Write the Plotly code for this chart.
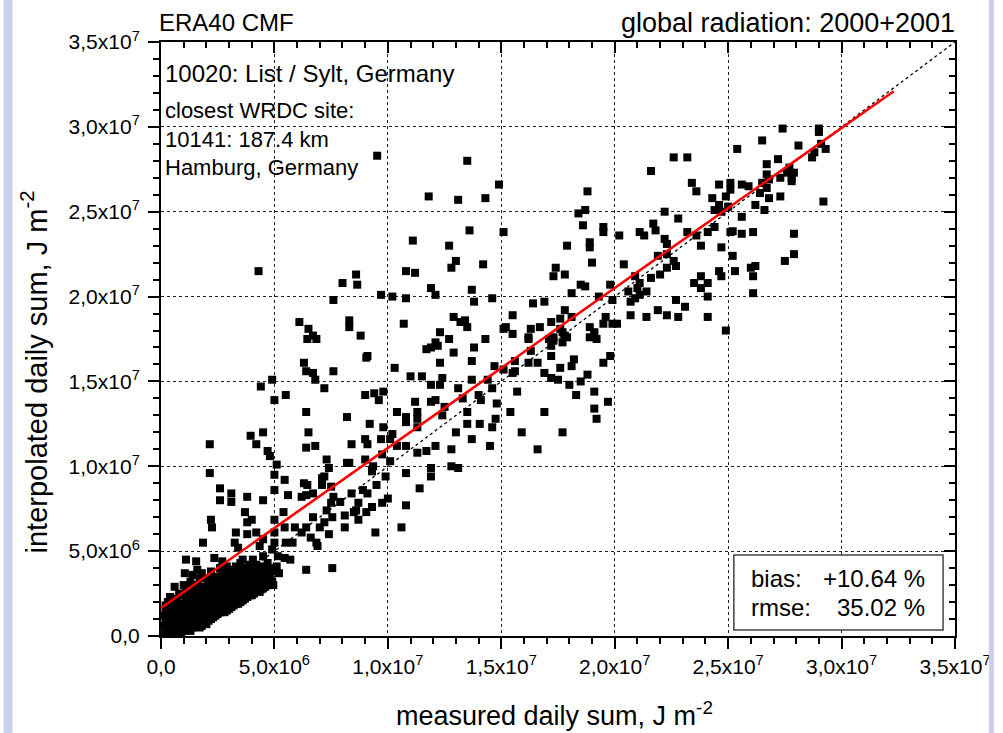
import plotly.graph_objects as go

# ---------------- data (values in 10^6 J m^-2) ----------------
points_upper_left = [
    (9.53, 28.3), (11.8, 25.9), (11.1, 23.3), (4.3, 21.5), (8.6, 21.3), (8.0, 20.8), (8.65, 20.7),
    (10.8, 21.5), (11.2, 21.4), (9.7, 20.1), (10.2, 20.0), (10.8, 19.9), (7.6, 19.8), (6.1, 18.5),
    (8.3, 18.6), (8.3, 18.2), (6.5, 18.1), (6.7, 17.7), (6.85, 17.5), (8.8, 17.7), (10.7, 18.4),
]
points_upper_mid = [
    (13.5, 28.0), (14.9, 26.6), (13.1, 25.7), (14.3, 25.8), (18.8, 26.2), (18.7, 25.1), (18.4, 24.9),
    (18.6, 24.2), (19.5, 24.1), (19.5, 23.8), (13.6, 23.9), (15.1, 23.8), (12.7, 23.0), (13.0, 22.1),
    (12.8, 21.7), (14.2, 21.9), (17.9, 23.0), (18.9, 23.2), (18.9, 22.9), (19.0, 22.0), (17.4, 21.7),
    (17.3, 21.2), (17.8, 21.3), (18.5, 20.7), (18.7, 20.6), (19.8, 20.7), (18.1, 20.2), (11.9, 20.5),
    (12.1, 20.1), (13.7, 20.4), (13.8, 19.7), (14.6, 19.9), (16.4, 19.6), (16.9, 19.7), (19.3, 20.0),
    (19.9, 19.8), (17.8, 19.2), (12.9, 18.8), (13.2, 18.5), (13.4, 18.6), (13.5, 18.2), (12.3, 17.9),
    (15.5, 18.9), (15.2, 18.2), (15.1, 18.1), (15.5, 17.8), (16.3, 18.1), (16.7, 18.2), (17.2, 18.5),
    (17.6, 18.7), (18.1, 18.8), (19.6, 18.8), (19.5, 18.4), (19.9, 18.4), (20.1, 18.4), (18.9, 18.2),
    (19.1, 17.9), (17.7, 17.9), (12.7, 17.5), (14.3, 17.5), (16.2, 17.6), (17.3, 17.6), (17.9, 17.6),
    (18.9, 17.6),
    (22.6, 28.2), (23.2, 28.2), (21.6, 27.4), (23.4, 26.7), (23.6, 26.2), (22.2, 25.0), (22.8, 24.6),
    (21.7, 24.3), (21.8, 23.9), (21.1, 23.8), (21.3, 23.6), (20.2, 23.6), (22.2, 23.4), (22.3, 23.1),
    (23.2, 23.8), (23.6, 23.6), (21.9, 22.4), (22.3, 22.5), (22.6, 22.1), (20.4, 21.9), (22.3, 21.7),
    (22.7, 21.8), (22.0, 21.3), (20.9, 21.2), (21.6, 21.1), (21.1, 20.8), (21.0, 20.5), (20.6, 20.3),
    (21.1, 20.1), (21.4, 20.3), (23.5, 20.8), (20.7, 19.7), (20.9, 19.9), (22.7, 19.8), (23.1, 19.4),
    (20.7, 18.9), (21.9, 19.2), (22.3, 18.9), (21.4, 18.8), (22.8, 18.8),
]
points_upper_right = [
    (27.4, 29.9), (29.0, 29.9), (29.0, 29.7), (26.5, 29.2), (25.4, 28.7), (28.1, 28.9), (29.1, 29.0),
    (29.3, 28.7), (28.8, 28.5), (28.7, 28.2), (27.2, 28.1), (26.7, 27.8), (27.7, 27.6), (26.7, 27.2),
    (27.6, 27.3), (27.9, 27.3), (27.8, 27.0), (27.8, 26.8), (27.3, 27.0), (26.8, 26.9), (26.5, 26.7),
    (26.7, 26.4), (26.4, 26.1), (26.8, 25.8), (27.3, 25.9), (25.9, 26.5), (25.6, 26.6), (25.1, 26.7),
    (25.1, 26.3), (24.6, 26.6), (24.9, 25.9), (24.3, 25.8), (29.2, 25.6), (26.2, 25.4), (26.6, 25.1),
    (24.6, 25.4), (25.0, 25.3), (24.4, 25.1), (24.7, 25.0), (25.6, 24.7), (24.4, 24.1), (24.1, 23.8),
    (25.1, 23.8), (25.2, 23.85), (25.6, 23.7), (26.1, 23.8), (23.8, 23.0), (24.7, 22.9), (27.9, 23.7),
    (27.9, 22.5), (27.5, 22.1), (25.2, 22.4), (26.0, 21.7), (26.2, 21.8), (25.3, 21.5), (24.6, 21.5),
    (24.7, 21.2), (26.1, 21.2), (23.8, 21.2), (24.1, 20.8), (23.8, 20.5), (24.1, 20.0), (26.1, 20.2),
    (24.1, 18.8), (24.9, 18.0),
]
points_middle_left = [
    (6.45, 17.5), (9.05, 16.4), (9.1, 16.5), (6.3, 16.1), (6.4, 15.6), (6.7, 15.5), (7.6, 15.6),
    (6.8, 15.1), (7.2, 14.6), (4.9, 15.1), (4.4, 14.7), (5.0, 13.9), (5.5, 14.2), (10.3, 15.8),
    (11.0, 15.3), (11.5, 15.3), (11.7, 16.9), (9.0, 14.2), (9.4, 14.3), (9.8, 14.4), (9.6, 13.9),
    (11.2, 13.8), (6.4, 13.2), (8.2, 12.9), (10.4, 13.2), (10.8, 12.9), (10.8, 12.6), (11.3, 13.2),
    (11.3, 12.8), (11.3, 12.3), (9.2, 12.5), (9.8, 12.3), (6.5, 12.0), (3.95, 11.8), (4.5, 12.0),
    (4.2, 11.3), (2.15, 11.3), (2.15, 9.6), (4.7, 10.9), (4.8, 10.6), (5.1, 10.1), (5.0, 9.5),
    (6.4, 11.1), (6.8, 11.2), (7.3, 10.4), (7.4, 9.9), (9.0, 11.6), (9.1, 11.3), (8.4, 11.3),
    (9.7, 11.6), (10.1, 11.6), (10.2, 11.9), (9.0, 10.4), (8.2, 10.2), (8.3, 10.2), (9.35, 10.0),
    (9.3, 9.8), (9.75, 10.7), (10.1, 10.3), (10.4, 11.2), (10.8, 11.2), (11.3, 10.8), (11.7, 10.9),
    (10.8, 9.6), (9.9, 9.4), (7.2, 9.4), (5.45, 9.2),
]
points_middle_right = [
    (12.1, 17.3), (11.9, 17.0), (12.2, 17.1), (12.9, 16.7), (12.3, 16.1), (13.8, 17.0), (13.7, 16.2),
    (14.7, 15.9), (16.2, 17.5), (16.3, 16.8), (15.6, 16.2), (16.2, 16.1), (16.6, 16.1), (15.5, 15.5),
    (15.6, 15.6), (15.1, 15.7), (17.1, 17.5), (17.2, 17.1), (17.3, 17.4), (17.7, 17.3), (17.8, 17.7),
    (17.6, 18.1), (17.2, 16.5), (16.9, 15.5), (17.2, 15.2), (17.6, 15.8), (17.5, 15.1), (18.2, 16.3),
    (18.1, 15.9), (18.8, 15.4), (18.5, 15.0), (18.0, 14.8), (18.3, 14.2), (19.1, 14.4), (19.1, 13.4),
    (19.2, 12.8), (19.7, 13.8), (19.5, 16.1), (19.8, 16.5), (19.1, 17.8), (19.2, 17.5), (13.7, 15.1),
    (14.4, 15.1), (14.6, 14.6), (14.0, 14.2), (14.1, 13.9), (14.8, 13.7), (13.1, 14.6), (12.4, 15.2),
    (12.3, 14.8), (11.9, 14.8), (13.3, 14.0), (12.5, 13.5), (12.4, 13.0), (12.1, 13.9), (11.9, 13.8),
    (13.5, 13.2), (13.5, 12.5), (14.05, 12.5), (14.75, 12.8), (14.6, 12.3), (13.0, 12.0), (13.7, 11.6),
    (14.5, 11.2), (12.8, 11.0), (12.1, 11.2), (15.4, 13.2), (16.9, 13.2), (15.7, 14.4), (15.9, 12.0),
    (17.7, 12.0), (16.6, 11.0), (12.8, 10.0), (13.1, 9.9), (11.9, 9.9), (11.9, 9.4),
]
points_lower = [
    (2.6, 8.7), (3.1, 8.4), (2.6, 8.0), (3.1, 7.9), (3.8, 8.2), (4.5, 8.0), (5.0, 8.6), (5.6, 8.3),
    (6.3, 9.0), (6.45, 8.9), (7.1, 9.3), (7.1, 8.9), (6.2, 8.2), (6.4, 8.3), (6.7, 8.4), (7.5, 8.8),
    (7.6, 8.2), (7.9, 7.9), (8.4, 8.4), (8.9, 8.6), (9.1, 8.4), (8.7, 7.85), (8.6, 7.4), (9.5, 8.9),
    (9.3, 9.7), (10.0, 8.1), (9.75, 7.85), (11.4, 8.7), (10.8, 7.7), (10.6, 6.4), (9.45, 6.1),
    (9.3, 7.6), (9.05, 7.3), (8.7, 6.85), (8.5, 7.3), (8.1, 7.1), (8.1, 6.4), (7.5, 7.85), (7.3, 7.4),
    (7.55, 7.0), (7.2, 6.7), (7.4, 6.0), (7.0, 6.4), (6.85, 5.5), (6.9, 5.3), (6.7, 7.0), (6.4, 6.4),
    (6.2, 6.1), (6.6, 5.8), (5.9, 6.4), (5.5, 5.5), (5.8, 5.5), (5.45, 4.6), (5.7, 4.5), (6.4, 3.9),
    (7.55, 4.0), (5.0, 6.85), (5.4, 7.3), (5.45, 6.4), (5.0, 6.1), (5.0, 5.5), (4.9, 5.1), (5.15, 4.7),
    (5.1, 4.1), (5.2, 3.7), (4.95, 3.0), (4.35, 2.6), (4.35, 3.9), (4.05, 4.5), (4.5, 4.7), (4.35, 5.3),
    (4.5, 5.7), (4.2, 6.1), (3.8, 6.7), (4.0, 6.85), (3.7, 7.3), (3.3, 6.1), (3.25, 5.5), (3.4, 5.2),
    (3.8, 6.0), (2.2, 6.85), (2.25, 6.4), (1.85, 5.5), (1.1, 4.5), (1.55, 4.4), (1.6, 3.9), (1.05, 3.7),
    (2.35, 4.6), (2.7, 4.4), (2.9, 4.1), (3.1, 3.9), (3.3, 4.1), (3.45, 3.7), (3.8, 3.3), (4.05, 3.5),
    (4.35, 3.1), (3.9, 2.9),
]
points_dense = [
    (0.1, 0.1), (0.1, 0.6), (0.1, 1.2),
    (0.3, 0.3), (0.3, 0.9), (0.3, 1.5), (0.3, 2.0),
    (0.5, 0.1), (0.5, 0.6), (0.5, 1.1), (0.5, 1.7),
    (0.7, 0.4), (0.7, 0.9), (0.7, 1.4), (0.7, 2.2), (0.6, 2.9),
    (0.9, 0.2), (0.9, 0.7), (0.9, 1.2), (0.9, 1.8),
    (1.1, 0.5), (1.1, 1.0), (1.1, 1.5), (1.1, 2.1), (1.1, 2.6),
    (1.3, 0.3), (1.3, 0.8), (1.3, 1.3), (1.3, 1.9), (1.3, 3.2),
    (1.5, 0.6), (1.5, 1.1), (1.5, 1.6), (1.5, 2.2), (1.5, 2.7),
    (1.7, 0.5), (1.7, 0.9), (1.7, 1.4), (1.7, 2.0), (1.7, 2.5), (1.7, 3.4),
    (1.9, 0.8), (1.9, 1.2), (1.9, 1.8), (1.9, 2.3), (1.9, 2.9),
    (2.1, 0.9), (2.1, 1.5), (2.1, 2.0), (2.1, 2.6), (2.1, 3.1),
    (2.3, 1.1), (2.3, 1.7), (2.3, 2.2), (2.3, 2.8), (2.3, 3.5),
    (2.5, 1.3), (2.5, 1.9), (2.5, 2.5), (2.5, 3.0),
    (2.7, 1.6), (2.7, 2.1), (2.7, 2.7), (2.7, 3.3), (2.7, 3.8),
    (2.9, 1.5), (2.9, 2.0), (2.9, 2.5), (2.9, 3.1),
    (3.1, 1.7), (3.1, 2.3), (3.1, 2.8), (3.1, 3.4),
    (3.3, 1.9), (3.3, 2.5), (3.3, 3.0), (3.3, 3.6),
    (3.5, 2.0), (3.5, 2.6), (3.5, 3.2), (3.5, 4.3),
    (3.7, 2.2), (3.7, 2.8), (3.7, 3.4), (3.7, 4.0),
    (3.9, 2.4), (3.9, 3.6), (3.9, 4.2),
    (4.1, 2.5), (4.1, 3.1), (4.1, 3.7),
    (4.3, 2.7), (4.3, 3.4), (4.3, 4.0),
    (4.5, 2.8), (4.5, 3.5), (4.5, 4.1),
    (4.7, 3.0), (4.7, 3.6), (4.7, 4.3),
    (4.9, 3.2), (4.9, 3.8),
    (0.2, 0.35), (0.2, 0.85), (0.2, 1.4), (0.2, 1.8),
    (0.4, 0.1), (0.4, 0.6), (0.4, 1.2), (0.4, 1.8), (0.4, 2.3),
    (0.6, 0.35), (0.6, 0.85), (0.6, 1.4), (0.6, 2.0),
    (0.8, 0.1), (0.8, 0.5), (0.8, 1.0), (0.8, 1.6), (0.8, 2.5),
    (1.0, 0.3), (1.0, 0.75), (1.0, 1.3), (1.0, 1.9), (1.0, 2.4), (1.0, 3.0),
    (1.2, 0.6), (1.2, 1.1), (1.2, 1.7), (1.2, 2.3), (1.2, 2.9),
    (1.4, 0.5), (1.4, 1.0), (1.4, 1.4), (1.4, 2.0), (1.4, 2.5), (1.4, 3.6),
    (1.6, 0.8), (1.6, 1.3), (1.6, 1.9), (1.6, 2.4), (1.6, 3.0),
    (1.8, 0.6), (1.8, 1.1), (1.8, 1.6), (1.8, 2.2), (1.8, 2.7), (1.8, 3.7),
    (2.0, 0.7), (2.0, 1.2), (2.0, 1.8), (2.0, 2.3), (2.0, 2.9), (2.0, 3.4),
    (2.2, 1.0), (2.2, 1.3), (2.2, 1.8), (2.2, 2.4), (2.2, 3.0), (2.2, 3.8),
    (2.4, 1.2), (2.4, 1.5), (2.4, 2.0), (2.4, 2.6), (2.4, 3.2),
    (2.6, 1.4), (2.6, 1.7), (2.6, 2.3), (2.6, 2.9), (2.6, 3.5), (2.6, 4.0),
    (2.8, 1.4), (2.8, 1.8), (2.8, 2.3), (2.8, 2.9), (2.8, 3.6),
    (3.0, 1.6), (3.0, 2.2), (3.0, 2.7), (3.0, 3.3), (3.0, 3.8),
    (3.2, 1.8), (3.2, 2.1), (3.2, 2.6), (3.2, 3.2), (3.2, 3.8),
    (3.4, 1.9), (3.4, 2.3), (3.4, 2.8), (3.4, 3.4), (3.4, 4.0),
    (3.6, 2.1), (3.6, 2.4), (3.6, 3.0), (3.6, 3.6), (3.6, 4.5),
    (3.8, 2.3), (3.8, 2.7), (3.8, 3.1), (3.8, 3.8),
    (4.0, 2.4), (4.0, 2.8), (4.0, 3.3), (4.0, 4.0),
    (4.2, 2.6), (4.2, 3.0), (4.2, 3.6), (4.2, 4.2),
    (4.4, 2.75), (4.4, 3.2), (4.4, 3.8),
    (4.6, 2.9), (4.6, 3.4), (4.6, 3.9),
    (4.8, 3.1), (4.8, 3.5), (4.8, 4.0),
]

# linear fit line end points (10^6 J m^-2)
fit_x = [0.0, 32.3]
fit_y = [1.65, 32.1]
# 1:1 reference line
ref_x = [0.0, 35.0]
ref_y = [0.0, 35.0]

tick_values = [0, 5e6, 1e7, 1.5e7, 2e7, 2.5e7, 3e7, 3.5e7]
tick_labels = ["0,0", "5,0x10<sup>6</sup>", "1,0x10<sup>7</sup>", "1,5x10<sup>7</sup>",
               "2,0x10<sup>7</sup>", "2,5x10<sup>7</sup>", "3,0x10<sup>7</sup>", "3,5x10<sup>7</sup>"]

title_left = "ERA40 CMF"
title_right = "global radiation: 2000+2001"
station_lines = ["10020: List / Sylt, Germany", "closest WRDC site:", "10141: 187.4 km", "Hamburg, Germany"]
bias_text = "+10.64 %"
rmse_text = "35.02 %"

# ---------------- build ----------------
SCALE = 1e6
all_pts = (points_upper_left + points_upper_mid + points_upper_right + points_middle_left
           + points_middle_right + points_lower + points_dense)
xs = [p[0] * SCALE for p in all_pts]
ys = [p[1] * SCALE for p in all_pts]

W, H = 1003, 733
L, R, T, B = 161, 958, 42, 636  # plot area pixel bounds


def px(xp):
    return (xp - L) / (R - L)


def py(yp):
    return (B - yp) / (B - T)


FONT = "Liberation Sans, Arial, Helvetica, sans-serif"

fig = go.Figure()
fig.add_trace(go.Scatter(x=xs, y=ys, mode="markers",
                         marker=dict(symbol="square", size=8, color="black", line=dict(width=0)),
                         showlegend=False, hoverinfo="skip"))
fig.add_trace(go.Scatter(x=[v * SCALE for v in ref_x], y=[v * SCALE for v in ref_y], mode="lines",
                         line=dict(color="black", width=1.3, dash="dot"), showlegend=False))
fig.add_trace(go.Scatter(x=[v * SCALE for v in fit_x], y=[v * SCALE for v in fit_y], mode="lines",
                         line=dict(color="#ff0000", width=2.6), showlegend=False))
# dummy trace for mirrored axes
fig.add_trace(go.Scatter(x=[1e6], y=[1e6], xaxis="x2", yaxis="y2", mode="markers",
                         marker=dict(opacity=0), showlegend=False, hoverinfo="skip"))

minor_vals = [i * 1e6 for i in range(0, 36)]

common_axis = dict(range=[0, 3.5e7], showline=True, linewidth=2, linecolor="black",
                   zeroline=False)

fig.update_layout(
    width=W, height=H,
    margin=dict(l=L, r=W - R, t=T, b=H - B),
    paper_bgcolor="white", plot_bgcolor="white",
    font=dict(family=FONT, color="black"),
    xaxis=dict(**common_axis, tickmode="array", tickvals=tick_values, ticktext=tick_labels,
               ticks="outside", ticklen=11, tickwidth=2, tickcolor="black",
               tickfont=dict(size=21, family=FONT), ticklabelstandoff=0,
               showgrid=True, gridcolor="#222222", gridwidth=1, griddash="dot",
               minor=dict(tickvals=minor_vals, ticks="outside", ticklen=6, tickwidth=2,
                          tickcolor="black", showgrid=False)),
    yaxis=dict(**common_axis, tickmode="array", tickvals=tick_values, ticktext=tick_labels,
               ticks="outside", ticklen=11, tickwidth=2, tickcolor="black",
               tickfont=dict(size=21, family=FONT), ticklabelstandoff=4,
               showgrid=True, gridcolor="#222222", gridwidth=1, griddash="dot",
               minor=dict(tickvals=minor_vals, ticks="outside", ticklen=6, tickwidth=2,
                          tickcolor="black", showgrid=False)),
    xaxis2=dict(**common_axis, overlaying="x", side="top", anchor="y2",
                tickmode="array", tickvals=tick_values, ticks="inside", ticklen=11, tickwidth=2,
                tickcolor="black", showticklabels=False, showgrid=False,
                minor=dict(tickvals=minor_vals, ticks="inside", ticklen=6, tickwidth=2,
                           tickcolor="black", showgrid=False)),
    yaxis2=dict(**common_axis, overlaying="y", side="right", anchor="x2",
                tickmode="array", tickvals=tick_values, ticks="inside", ticklen=11, tickwidth=2,
                tickcolor="black", showticklabels=False, showgrid=False,
                minor=dict(tickvals=minor_vals, ticks="inside", ticklen=6, tickwidth=2,
                           tickcolor="black", showgrid=False)),
)

ann = []


def add_text(text, xpix, ypix, size, xanchor="left", yanchor="middle", angle=0):
    ann.append(dict(text=text, x=px(xpix), y=py(ypix), xref="paper", yref="paper",
                    xanchor=xanchor, yanchor=yanchor, showarrow=False, textangle=angle,
                    font=dict(size=size, family=FONT, color="black")))


add_text(title_left, 157, 23, 24)
add_text(title_right, 960, 23, 27, xanchor="right")
add_text(station_lines[0], 163, 74, 24)
add_text(station_lines[1], 163, 111, 22)
add_text(station_lines[2], 163, 139, 22)
add_text(station_lines[3], 163, 167, 22)
add_text("bias:", 751, 578, 24)
add_text(bias_text, 930, 578, 24, xanchor="right")
add_text("rmse:", 751, 607, 24)
add_text(rmse_text, 930, 607, 24, xanchor="right")
add_text("measured daily sum, J m<sup>-2</sup>", 556, 714, 27, xanchor="center")
add_text("interpolated daily sum, J m<sup>-2</sup>", 34, 372, 29, xanchor="center", angle=-90)
fig.update_layout(annotations=ann)

shapes = [
    dict(type="rect", xref="paper", yref="paper", x0=px(736), x1=px(946), y0=py(630), y1=py(555),
         line=dict(color="#444444", width=1.5), fillcolor="white", layer="above"),
    dict(type="rect", xref="paper", yref="paper", x0=px(3), x1=px(12), y0=py(H), y1=py(0),
         line=dict(width=0), fillcolor="#c8d0ec"),
    dict(type="rect", xref="paper", yref="paper", x0=px(992), x1=px(997), y0=py(H), y1=py(0),
         line=dict(width=0), fillcolor="#c8d0ec"),
]
fig.update_layout(shapes=shapes)

fig.write_html("out.html", config={"displayModeBar": False},
               post_script="document.body.style.margin='0px';document.body.style.overflow='hidden';")
